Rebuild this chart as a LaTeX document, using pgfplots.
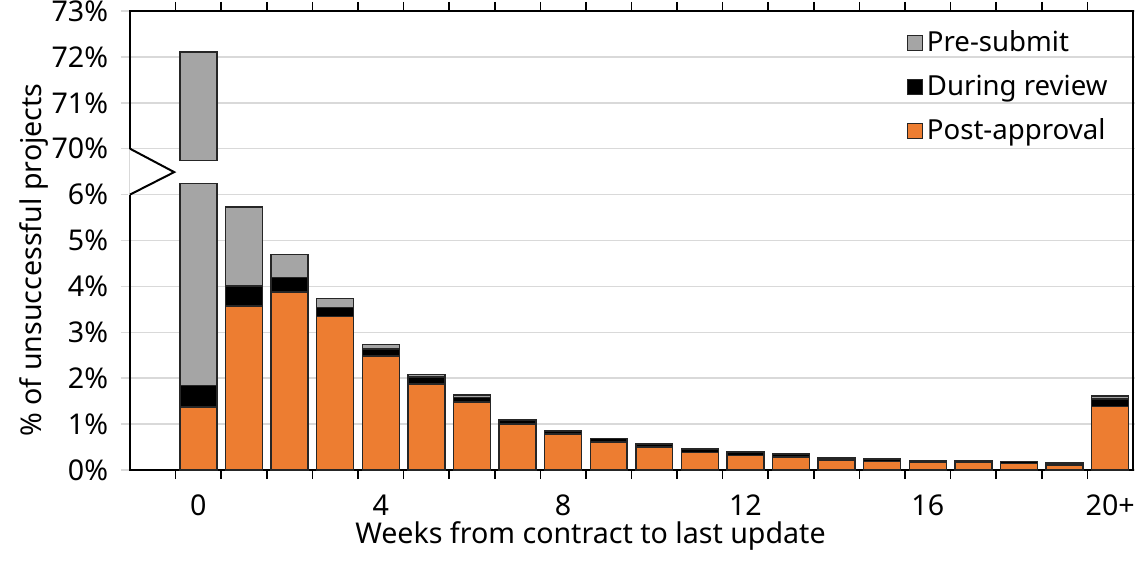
\documentclass[border=0pt]{standalone}
\usepackage{fontspec}
\setmainfont{Noto Sans}
\usepackage{pgfplots}
\usepackage{pgfplotstable}
\pgfplotsset{compat=1.18}
\usetikzlibrary{calc}
\definecolor{orng}{HTML}{ED7D31}
\definecolor{gry}{HTML}{A5A5A5}
\definecolor{gridc}{HTML}{D9D9D9}
\definecolor{edge}{HTML}{262626}
% y is plotted on a broken scale: 0..6 = 0%..6%, 7..10 = 70%..73%
\pgfplotstableread{
x post during pre
0 1.37 0.47 4.40
1 3.57 0.44 1.72
2 3.88 0.32 0.50
3 3.35 0.19 0.19
4 2.48 0.16 0.10
5 1.87 0.16 0.05
6 1.48 0.10 0.05
7 1.00 0.08 0.02
8 0.78 0.06 0.01
9 0.61 0.07 0.01
10 0.50 0.06 0.01
11 0.38 0.07 0.01
12 0.31 0.07 0.01
13 0.28 0.06 0.01
14 0.22 0.04 0.01
15 0.18 0.05 0.01
16 0.16 0.04 0.01
17 0.16 0.04 0.01
18 0.14 0.04 0.01
19 0.11 0.04 0.01
20 1.39 0.16 0.06
}\datatable
\begin{document}
\fontsize{14.3}{17}\selectfont
\begin{tikzpicture}
\begin{axis}[
 name=ax, anchor=south west, at={(0,0)},
 scale only axis, width=501.5pt, height=229.5pt,
 ybar stacked, bar width=0.81,
 xmin=-1.5, xmax=20.5, ymin=0, ymax=10,
 ytick={0,...,10},
 yticklabels={0\%,1\%,2\%,3\%,4\%,5\%,6\%,70\%,71\%,72\%,73\%},
 ymajorgrids, major grid style={gridc, line width=0.75pt},
 ytick style={draw=gridc, line width=0.75pt},
 xtick={-0.5,0.5,...,19.5}, xticklabels={},
 xtick style={draw=black, line width=0.8pt},
 extra x ticks={0,4,8,12,16,20},
 extra x tick labels={0,4,8,12,16,20+},
 extra x tick style={major tick length=0pt, grid=none,
   tick label style={anchor=base, yshift=-22.5pt}},
 tick align=outside, major tick length=4.5pt,
 axis line style={line width=1pt, black},
 /pgf/number format/assume math mode=true,
 yticklabel style={anchor=east, xshift=-1.5pt},
 ylabel={\% of unsuccessful projects},
 ylabel style={at={(rel axis cs:0,0.4575)}, anchor=center, yshift=48pt},
 xlabel={Weeks from contract to last update},
 xlabel style={at={(axis cs:8.6,0)}, anchor=base, yshift=-36.5pt},
 reverse legend,
 legend style={draw=none, fill=none, at={(rel axis cs:0.983,0.976)}, anchor=north east,
   legend cell align=left, row sep=5.5pt, inner sep=2pt, font=\fontsize{13.8}{16}\selectfont},
]
\addplot[fill=orng, draw=edge, line width=0.7pt,
  legend image code/.code={\draw[fill=orng,draw=edge,line width=0.6pt] (-3pt,-3.75pt) rectangle (4.5pt,3.75pt);}]
  table[x=x,y=post]{\datatable};
\addlegendentry{Post-approval}
\addplot[fill=black, draw=edge, line width=0.7pt,
  legend image code/.code={\draw[fill=black,draw=edge,line width=0.6pt] (-3pt,-3.75pt) rectangle (4.5pt,3.75pt);}]
  table[x=x,y=during]{\datatable};
\addlegendentry{During review}
\addplot[fill=gry, draw=edge, line width=0.7pt,
  legend image code/.code={\draw[fill=gry,draw=edge,line width=0.6pt] (-3pt,-3.75pt) rectangle (4.5pt,3.75pt);}]
  table[x=x,y=pre]{\datatable};
\addlegendentry{Pre-submit}
\coordinate (sw) at (rel axis cs:0,0);
\coordinate (ne) at (rel axis cs:1,1);
\coordinate (b1) at (axis cs:-1.5,6);
\coordinate (b2) at (axis cs:-1.5,7);
\coordinate (bt) at (axis cs:-0.53,6.49);
\end{axis}
% upper part of the first bar (69.74% .. 72.11%)
\begin{axis}[
 anchor=south west, at={(0,0)},
 scale only axis, width=501.5pt, height=229.5pt,
 xmin=-1.5, xmax=20.5, ymin=0, ymax=10, hide axis,
 ybar stacked, bar width=0.81]
\addplot[draw=none, fill=none] coordinates {(0,6.74)};
\addplot[fill=gry, draw=edge, line width=0.7pt] coordinates {(0,2.37)};
\end{axis}
\draw[white, line width=2pt] (b1) -- (b2);
\draw[gridc, line width=0.5pt] (b1) -- (b2);
\draw[black, line width=1pt, line join=miter] (b2) -- (bt) -- (b1);
\pgfresetboundingbox
\path[use as bounding box] ($(sw)+(-65pt,-46pt)$) rectangle ($(ne)+(1pt,5.5pt)$);
\end{tikzpicture}
\end{document}
